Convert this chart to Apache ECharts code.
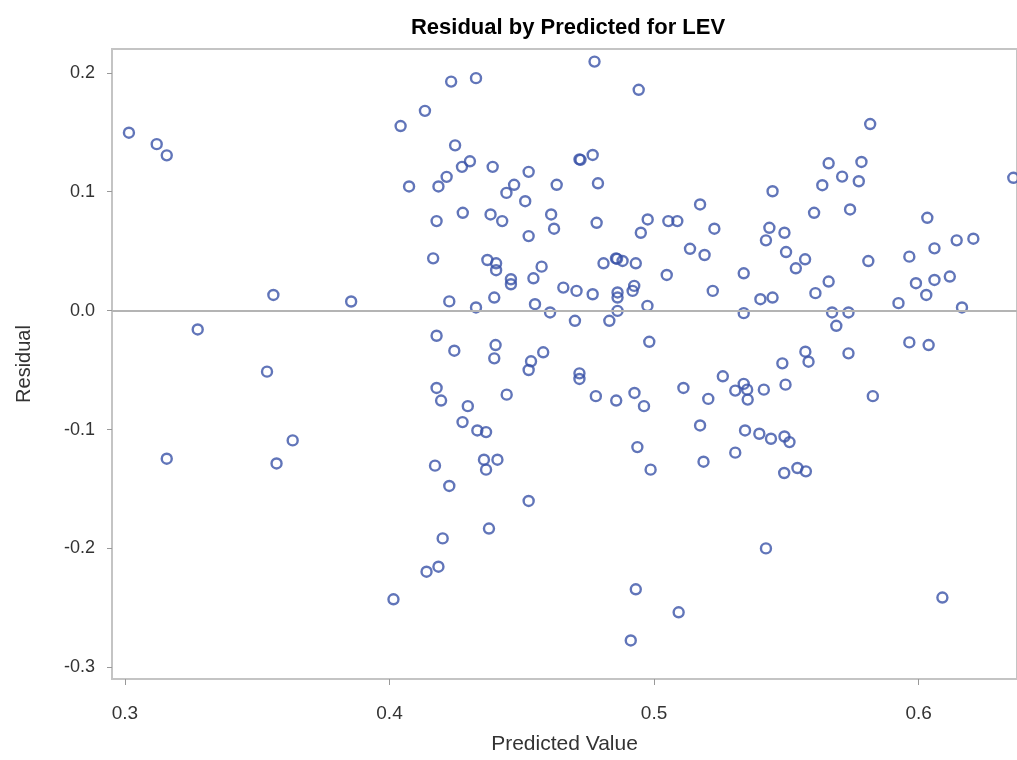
<!DOCTYPE html>
<html>
<head>
<meta charset="utf-8">
<title>Residual by Predicted for LEV</title>
<script src="https://cdn.jsdelivr.net/npm/echarts@6/dist/echarts.min.js"></script>
<style>
  html, body { margin: 0; padding: 0; background: #fff; }
  #main { width: 1017px; height: 760px; }
</style>
</head>
<body>
<div id="main"></div>
<script>
// predicted values (x) and residuals (y)
var predicted = [
    0.3015, 0.3120, 0.3158, 0.4042, 0.4134, 0.4074, 0.4775, 0.4233, 0.4327, 0.4942,
    0.4248, 0.4304, 0.4274, 0.4390, 0.4718, 0.4722, 0.4768, 0.4526, 0.4216, 0.4185,
    0.4471, 0.4442, 0.4632, 0.4788, 0.4513, 0.4178, 0.4277, 0.4382, 0.4426, 0.4611,
    0.4622, 0.4526, 0.4783, 0.4976, 0.4950, 0.5054, 0.5088, 0.5174, 0.5228, 0.5136,
    0.5191, 0.4165, 0.4370, 0.4403, 0.4403, 0.4575, 0.4544, 0.4459, 0.4459, 0.4226,
    0.4327, 0.4396, 0.4550, 0.4607, 0.4657, 0.4707, 0.4768, 0.4701, 0.4809, 0.4856,
    0.4860, 0.4881, 0.4931, 0.4862, 0.4862, 0.4925, 0.4919, 0.4862, 0.4831, 0.4975,
    0.5048, 0.5222, 0.4178, 0.4245, 0.4401, 0.4396, 0.4581, 0.4535, 0.4526, 0.4982,
    0.4718, 0.4718, 0.4178, 0.4195, 0.4443, 0.4296, 0.4780, 0.4857, 0.4926, 0.4962,
    0.5111, 0.5205, 0.5260, 0.4276, 0.4332, 0.4365, 0.5174, 0.4937, 0.5187, 0.4172,
    0.4357, 0.4408, 0.4365, 0.4987, 0.4226, 0.4526, 0.4376, 0.4201, 0.4140, 0.4185,
    0.4015, 0.4931, 0.5093, 0.4912, 0.3158, 0.3573, 0.3561, 0.3855, 0.3275, 0.3537,
    0.3634, 0.5817, 0.5660, 0.5784, 0.5711, 0.5636, 0.5774, 0.5448, 0.5605, 0.5741,
    0.6033, 0.5436, 0.5423, 0.5493, 0.5499, 0.5571, 0.5536, 0.5810, 0.5965, 0.6060,
    0.6144, 0.6207, 0.6358, 0.5339, 0.5402, 0.5448, 0.5660, 0.5610, 0.5990, 0.6060,
    0.6118, 0.6029, 0.5924, 0.6164, 0.5339, 0.5673, 0.5735, 0.5689, 0.5965, 0.6038,
    0.5572, 0.5584, 0.5485, 0.5735, 0.5497, 0.5339, 0.5307, 0.5352, 0.5354, 0.5415,
    0.5827, 0.5344, 0.5398, 0.5442, 0.5493, 0.5512, 0.5307, 0.5492, 0.5542, 0.5574,
    0.5423, 0.6090
];
var residual = [
    0.1496, 0.1400, 0.1306, 0.1552, 0.1680, 0.1044, 0.2094, 0.1926, 0.1955, 0.1857,
    0.1390, 0.1256, 0.1209, 0.1209, 0.1272, 0.1268, 0.1309, 0.1167, 0.1125, 0.1044,
    0.1058, 0.0990, 0.1058, 0.1071, 0.0920, 0.0753, 0.0823, 0.0809, 0.0753, 0.0809,
    0.0689, 0.0627, 0.0739, 0.0767, 0.0655, 0.0753, 0.0753, 0.0893, 0.0689, 0.0520,
    0.0468, 0.0440, 0.0426, 0.0398, 0.0340, 0.0370, 0.0272, 0.0264, 0.0222, 0.0078,
    0.0027, 0.0110, 0.0054, -0.0015, 0.0194, 0.0166, 0.0138, -0.0085, 0.0398, 0.0440,
    0.0435, 0.0418, 0.0398, 0.0153, 0.0110, 0.0208, 0.0166, -0.0002, -0.0085, 0.0040,
    0.0300, 0.0166, -0.0211, -0.0337, -0.0289, -0.0401, -0.0350, -0.0426, -0.0499, -0.0262,
    -0.0527, -0.0574, -0.0650, -0.0756, -0.0706, -0.0803, -0.0719, -0.0756, -0.0692, -0.0803,
    -0.0650, -0.0742, -0.0552, -0.0937, -0.1007, -0.1021, -0.0965, -0.1147, -0.1270, -0.1303,
    -0.1253, -0.1253, -0.1337, -0.1337, -0.1474, -0.1600, -0.1832, -0.1915, -0.2195, -0.2153,
    -0.2427, -0.2343, -0.2536, -0.2773, -0.1245, -0.1285, 0.0132, 0.0077, -0.0158, -0.0513,
    -0.1091, 0.1569, 0.1239, 0.1250, 0.1127, 0.1055, 0.1088, 0.1004, 0.0823, 0.0851,
    0.0781, 0.0697, 0.0591, 0.0655, 0.0493, 0.0432, 0.0356, 0.0417, 0.0454, 0.0524,
    0.0591, 0.0605, 0.1117, 0.0314, 0.0096, 0.0110, 0.0245, 0.0147, 0.0231, 0.0258,
    0.0287, 0.0132, 0.0063, 0.0027, -0.0021, -0.0015, -0.0015, -0.0127, -0.0267, -0.0289,
    -0.0345, -0.0429, -0.0443, -0.0359, -0.0622, -0.0616, -0.0672, -0.0664, -0.0748, -0.0664,
    -0.0719, -0.1007, -0.1035, -0.1077, -0.1058, -0.1105, -0.1194, -0.1365, -0.1323, -0.1351,
    -0.1999, -0.2412
];
var xTicks = [0.3, 0.4, 0.5, 0.6];
var yTicks = [-0.3, -0.2, -0.1, 0.0, 0.1, 0.2];

var points = [];
for (var i = 0; i < predicted.length; i++) {
    points.push([predicted[i], residual[i]]);
}

var fontFamily = '"Liberation Sans", Arial, sans-serif';
var myChart = echarts.init(document.getElementById('main'), null, {renderer: 'canvas'});

myChart.setOption({
    animation: false,
    backgroundColor: '#fff',
    title: {
        text: 'Residual by Predicted for LEV',
        left: 563,
        textAlign: 'center',
        top: 12,
        textStyle: {
            color: '#000',
            fontFamily: fontFamily,
            fontWeight: 'bold',
            fontSize: 22
        }
    },
    grid: {
        left: 112,
        top: 49,
        right: 0,
        bottom: 79,
        show: true,
        borderColor: '#c4c4c4',
        borderWidth: 2,
        backgroundColor: '#fff'
    },
    xAxis: {
        type: 'value',
        min: 0.2951,
        max: 0.6372,
        name: 'Predicted Value',
        nameLocation: 'middle',
        nameGap: 55,
        nameTextStyle: {color: '#333', fontFamily: fontFamily, fontSize: 21},
        axisLine: {show: false, onZero: false},
        axisTick: {
            show: true,
            customValues: xTicks,
            length: 6,
            lineStyle: {color: '#999', width: 1}
        },
        axisLabel: {
            customValues: xTicks,
            margin: 25,
            color: '#333',
            fontFamily: fontFamily,
            fontSize: 19,
            formatter: function (v) { return v.toFixed(1); }
        },
        splitLine: {show: false}
    },
    yAxis: {
        type: 'value',
        min: -0.3097,
        max: 0.2200,
        name: 'Residual',
        nameLocation: 'middle',
        nameGap: 78,
        nameTextStyle: {color: '#333', fontFamily: fontFamily, fontSize: 20},
        axisLine: {show: false, onZero: false},
        axisTick: {
            show: true,
            customValues: yTicks,
            length: 5,
            lineStyle: {color: '#999', width: 1}
        },
        axisLabel: {
            customValues: yTicks,
            margin: 17,
            color: '#333',
            fontFamily: fontFamily,
            fontSize: 18,
            formatter: function (v) { return v.toFixed(1); }
        },
        splitLine: {show: false}
    },
    series: [{
        type: 'scatter',
        data: points,
        symbol: 'circle',
        symbolSize: 10,
        itemStyle: {
            color: 'rgba(0,0,0,0)',
            borderColor: '#3953a8',
            borderWidth: 2.4
        },
        markLine: {
            silent: true,
            symbol: 'none',
            label: {show: false},
            lineStyle: {color: '#b4b4b4', width: 2, type: 'solid'},
            data: [{yAxis: 0}]
        }
    }]
});
</script>
</body>
</html>
